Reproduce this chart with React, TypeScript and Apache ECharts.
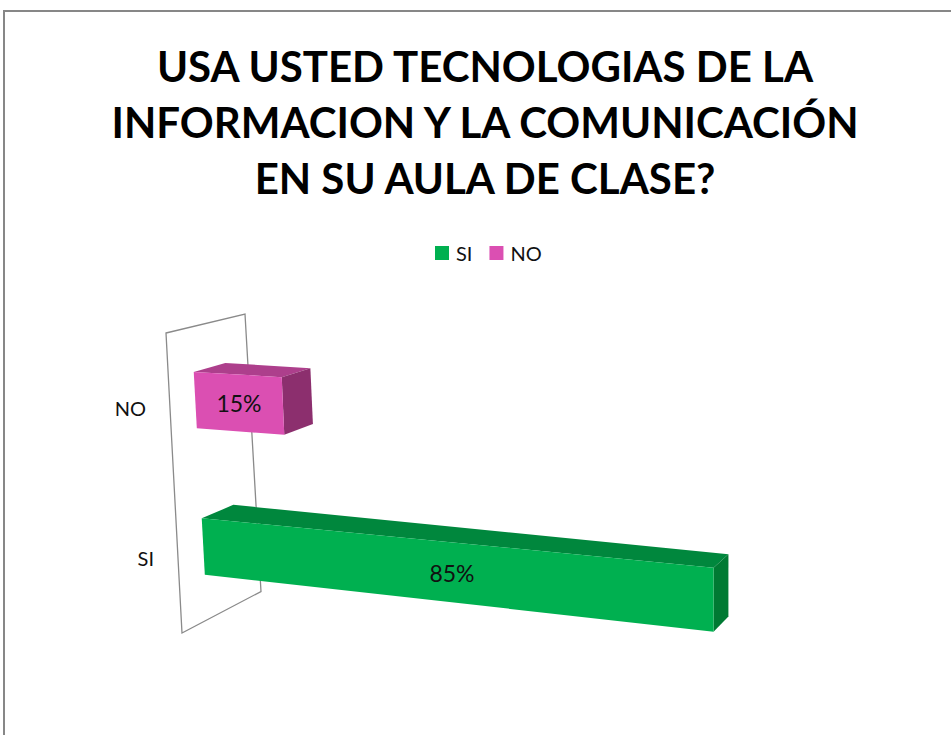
import React, { useEffect, useRef } from "react";
import * as echarts from "echarts";

const categories = ["SI", "NO"];
const seriesNames = ["SI", "NO"];
const values = [85, 15];
const titleLines = [
  "USA USTED TECNOLOGIAS DE LA",
  "INFORMACION Y LA COMUNICACIÓN",
  "EN SU AULA DE CLASE?",
];

const FONT = "Lato";
const palette: Record<string, { front: string; top: string; side: string }> = {
  SI: { front: "#00B050", top: "#00873D", side: "#007A33" },
  NO: { front: "#DB4FB2", top: "#AD3F8C", side: "#8C2F6E" },
};

// perspective warp of a flat grid point (dx from value 0, py), at depth d (0 front - 1 back)
function makeWarp(cs: { x: number; y: number }) {
  return (dx: number, py: number, d: number) => {
    const ry = py - cs.y;
    const fx = dx * (1 + 0.0000988 * dx);
    const X = cs.x + ry * 0.0533 * (1 - dx / 510) + fx + 79 * d * (1 - 0.00104 * dx);
    const Y = py + dx * (0.058 + (ry - 47.5) * 0.00026) + d * (-19 - ry * 0.075);
    return [X, Y];
  };
}

export default function App() {
  const ref = useRef<HTMLDivElement>(null);
  useEffect(() => {
    if (!ref.current) return;
    const chart = echarts.init(ref.current, null, { renderer: "svg" });
    const DF = 0.32;
    const DB = 0.72;

    const barSeries = seriesNames.map((name, i) => ({
      type: "custom",
      name,
      z: 3,
      itemStyle: { color: palette[name].front },
      data: [[values[i], categories.indexOf(name)]],
      renderItem: (params: any, api: any) => {
        const v = api.value(0);
        const c = api.value(1);
        const cs = params.coordSys;
        const warp = makeWarp(cs);
        const p0 = api.coord([0, c]);
        const p1 = api.coord([v, c]);
        const band = api.size([0, 1])[1];
        const h = band * 0.385;
        const yT = p0[1] - h / 2;
        const yB = p0[1] + h / 2;
        const dx = p1[0] - p0[0];
        const FTL = warp(0, yT, DF), FTR = warp(dx, yT, DF), FBR = warp(dx, yB, DF), FBL = warp(0, yB, DF);
        const BTL = warp(0, yT, DB), BTR = warp(dx, yT, DB), BBR = warp(dx, yB, DB);
        const col = palette[name];
        const lab = warp(dx / 2, p0[1], DF);
        return {
          type: "group",
          children: [
            { type: "polygon", shape: { points: [FTL, FTR, BTR, BTL] }, style: { fill: col.top } },
            { type: "polygon", shape: { points: [FTR, BTR, BBR, FBR] }, style: { fill: col.side } },
            { type: "polygon", shape: { points: [FTL, FTR, FBR, FBL] }, style: { fill: col.front } },
            {
              type: "text",
              x: lab[0],
              y: lab[1],
              style: {
                text: Math.round(v) + "%",
                fontSize: 23,
                fontFamily: FONT,
                fill: "#111",
                align: "center",
                verticalAlign: "middle",
              },
            },
          ],
        };
      },
    }));

    const wallSeries = {
      type: "custom",
      name: "wall",
      z: 1,
      silent: true,
      data: categories.map((c, i) => [0, i]),
      renderItem: (params: any, api: any) => {
        const cs = params.coordSys;
        const warp = makeWarp(cs);
        const c = api.value(1);
        const p0 = api.coord([0, c]);
        const lp = warp(0, p0[1], 0);
        const children: any[] = [
          {
            type: "text",
            x: lp[0] - 24,
            y: lp[1],
            style: {
              text: categories[c],
              fontSize: 20,
              fontFamily: FONT,
              fill: "#111",
              align: "right",
              verticalAlign: "middle",
            },
          },
        ];
        if (params.dataIndex === 0) {
          const top = cs.y;
          const bot = cs.y + cs.height;
          children.push({
            type: "polygon",
            shape: { points: [warp(0, top, 0), warp(0, top, 1), warp(0, bot, 1), warp(0, bot, 0)] },
            style: { fill: "none", stroke: "#8a8a8a", lineWidth: 1.3 },
          });
        }
        return { type: "group", children };
      },
    };

    chart.setOption({
      animation: false,
      backgroundColor: "#ffffff",
      title: {
        text: titleLines.join("\n"),
        left: 480,
        textAlign: "center",
        top: 33,
        textStyle: {
          fontFamily: FONT,
          fontWeight: "bold",
          fontSize: 42,
          lineHeight: 56,
          color: "#000",
        },
      },
      legend: {
        data: seriesNames,
        left: 435,
        top: 243,
        padding: 0,
        icon: "rect",
        itemWidth: 14,
        itemHeight: 14,
        itemGap: 17,
        textStyle: { fontFamily: FONT, fontSize: 20, color: "#111", padding: [0, 0, 0, 2] },
      },
      graphic: [
        {
          type: "rect",
          shape: { x: 4, y: 11, width: 1200, height: 1200 },
          style: { fill: "none", stroke: "#878787", lineWidth: 2 },
          silent: true,
        },
      ],
      grid: { left: 166, top: 333, width: 600, height: 300 },
      xAxis: { type: "value", min: 0, max: 100, show: false },
      yAxis: { type: "category", data: categories, show: false },
      series: [wallSeries, ...barSeries],
    });
    return () => chart.dispose();
  }, []);
  return (
    <div
      ref={ref}
      style={{ position: "fixed", left: 0, top: 0, width: "951px", height: "735px" }}
    />
  );
}
